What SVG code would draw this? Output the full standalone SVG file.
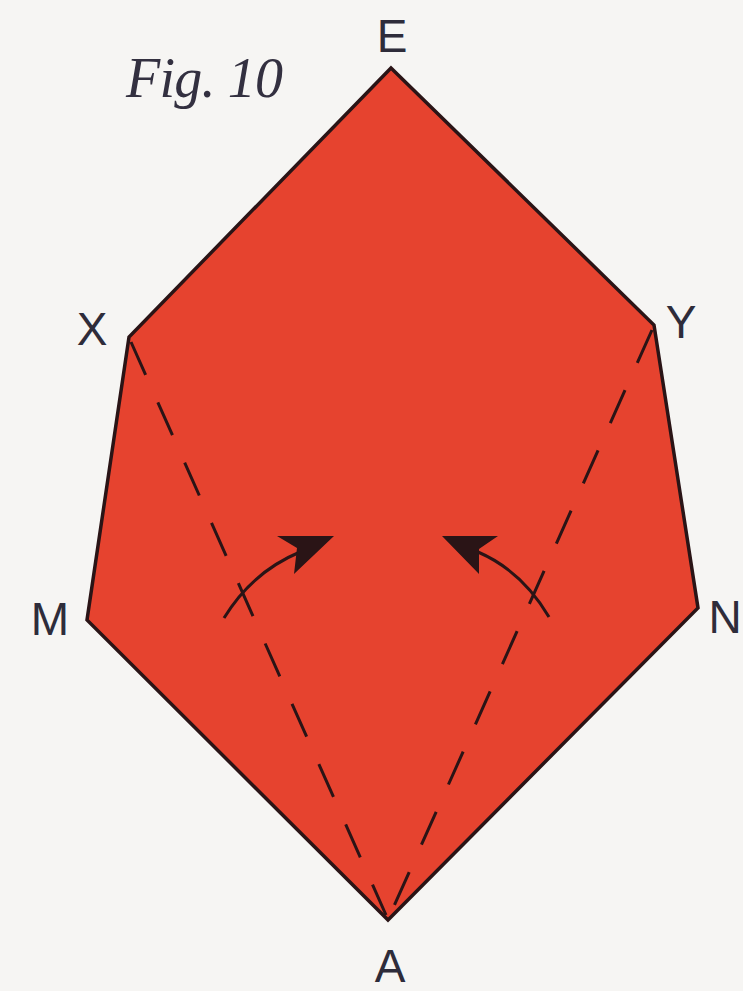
<svg xmlns="http://www.w3.org/2000/svg" width="743" height="991" viewBox="0 0 743 991">
<style>
.lbl{font-family:"Liberation Sans",Arial,sans-serif;font-size:46px;fill:#2e2c3a;text-anchor:middle}
.fold{stroke:#2a1416;stroke-width:3;fill:none;stroke-dasharray:36 30}
.arc{stroke:#2a1416;stroke-width:3;fill:none}
.head{fill:#2a1416}
</style>
<rect width="743" height="991" fill="#f6f5f3"/>
<text x="126" y="97" font-family="'Liberation Serif',serif" font-style="italic" font-size="56" fill="#333040" textLength="157">Fig. 10</text>
<g id="paper">
<polygon points="391,68 654,325 698,608 388,920 87,620 129,337" fill="#e6432f" stroke="#2a1416" stroke-width="3.5" stroke-linejoin="miter"/>
</g>
<g id="folds">
<path class="fold" d="M131,342 L386,915"/>
<path class="fold" d="M652,330 L390,915"/>
</g>
<g id="arrows">
<path class="arc" d="M224,618 Q252,572 300,552"/>
<polygon class="head" points="334,536 277,536 297,548 294,574"/>
<path class="arc" d="M549,617 Q522,571 478,552"/>
<polygon class="head" points="442,536 498,536 479,549 479,574"/>
</g>
<g id="labels">
<text class="lbl" x="392" y="52">E</text>
<text class="lbl" x="92" y="345">X</text>
<text class="lbl" x="681" y="338">Y</text>
<text class="lbl" x="50" y="635">M</text>
<text class="lbl" x="725" y="633">N</text>
<text class="lbl" x="390" y="982">A</text>
</g>
</svg>
